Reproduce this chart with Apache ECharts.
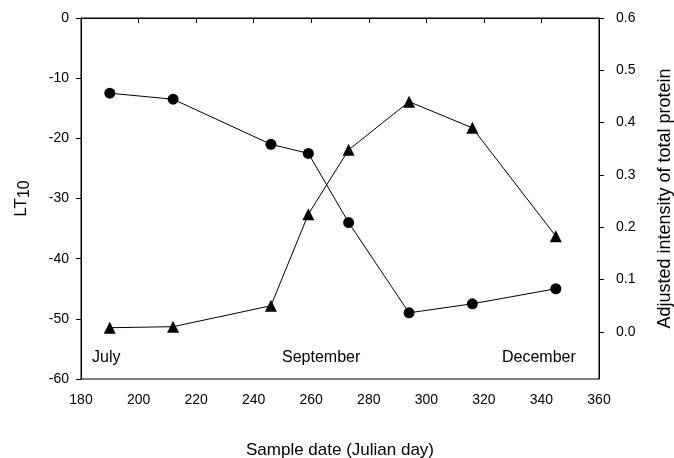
<!DOCTYPE html>
<html lang="en">
<head>
    <meta charset="UTF-8">
    <title>LT10 and protein intensity</title>
    <style>
        html, body { margin: 0; padding: 0; background: #fff; }
        div#main { width: 674px; height: 458px; }
    </style>
</head>
<body>
    <div id="main"></div>
    <script src="https://cdn.jsdelivr.net/npm/echarts@6/dist/echarts.min.js"></script>
    <script>
        // sample dates (Julian day)
        const days = [190, 212, 246, 259, 273, 294, 316, 345];
        // LT10 (left axis, circles)
        const lt10 = [-12.5, -13.5, -21.0, -22.5, -34.0, -49.0, -47.5, -45.0];
        // adjusted intensity of total protein (right axis, triangles)
        const protein = [0.008, 0.010, 0.050, 0.225, 0.348, 0.440, 0.390, 0.183];
        const rightTicks = [0, 0.1, 0.2, 0.3, 0.4, 0.5, 0.6];
        const months = [
            { text: "July", x: 92 },
            { text: "September", x: 282 },
            { text: "December", x: 502 }
        ];

        const font = "'Liberation Sans', Arial, sans-serif";
        const black = "#000";
        const chart = echarts.init(document.getElementById('main'));

        const axisCommon = {
            axisLine: { show: true, lineStyle: { color: black, width: 1 } },
            axisTick: { show: true, inside: false, length: 5, lineStyle: { color: black } },
            splitLine: { show: false },
            axisLabel: { color: black, fontSize: 14, fontFamily: font },
            nameTextStyle: { color: black, fontSize: 17, fontFamily: font }
        };

        const option = {
            animation: false,
            backgroundColor: "#fff",
            grid: {
                left: 81, right: 75, top: 18, bottom: 79,
                outerBoundsMode: "none",
                containLabel: false,
                show: true, borderColor: black, borderWidth: 1
            },
            xAxis: {
                ...axisCommon,
                type: "value",
                min: 180, max: 360, interval: 20,
                name: "Sample date (Julian day)",
                nameLocation: "middle",
                nameGap: 63,
                axisLabel: { ...axisCommon.axisLabel, margin: 14 }
            },
            yAxis: [
                {
                    ...axisCommon,
                    type: "value",
                    position: "left",
                    min: -60, max: 0, interval: 10,
                    name: "{a|LT}{s|10}",
                    nameLocation: "middle",
                    nameRotate: 90,
                    nameGap: 48,
                    nameTextStyle: {
                        ...axisCommon.nameTextStyle,
                        rich: {
                            a: { fontSize: 17, fontFamily: font, color: black },
                            s: { fontSize: 16, fontFamily: font, color: black, padding: [8, 0, 0, 0] }
                        }
                    },
                    axisLabel: { ...axisCommon.axisLabel, margin: 12 }
                },
                {
                    ...axisCommon,
                    type: "value",
                    position: "right",
                    min: -0.09, max: 0.6,
                    name: "Adjusted intensity of total protein",
                    nameLocation: "middle",
                    nameRotate: 90,
                    nameGap: 57,
                    nameTextStyle: { ...axisCommon.nameTextStyle, fontSize: 18 },
                    axisTick: { ...axisCommon.axisTick, customValues: rightTicks },
                    axisLabel: {
                        ...axisCommon.axisLabel,
                        margin: 17,
                        customValues: rightTicks,
                        formatter: v => v.toFixed(1)
                    }
                }
            ],
            graphic: months.map(m => ({
                type: "text",
                left: m.x,
                top: 350,
                style: { text: m.text, fontSize: 16, fontFamily: font, fill: black }
            })),
            series: [
                {
                    name: "LT10",
                    type: "line",
                    yAxisIndex: 0,
                    data: days.map((d, i) => [d, lt10[i]]),
                    symbol: "circle",
                    symbolSize: 11,
                    itemStyle: { color: black },
                    lineStyle: { color: black, width: 1 }
                },
                {
                    name: "Protein",
                    type: "line",
                    yAxisIndex: 1,
                    data: days.map((d, i) => [d, protein[i]]),
                    symbol: "triangle",
                    symbolSize: 12,
                    itemStyle: { color: black },
                    lineStyle: { color: black, width: 1 }
                }
            ]
        };

        chart.setOption(option);
    </script>
</body>
</html>
